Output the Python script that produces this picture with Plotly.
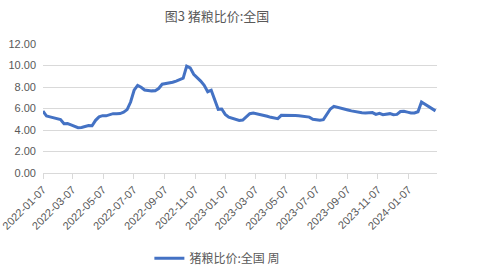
import datetime as dt
import plotly.graph_objects as go

title = "图3 猪粮比价:全国"
series_name = "猪粮比价:全国 周"
start_date = "2022-01-07"
values = [
    5.76, 5.30, 5.22, 5.15, 5.10, 4.98, 4.58, 4.60, 4.48, 4.32,
    4.22, 4.24, 4.32, 4.42, 4.40, 4.90, 5.22, 5.33, 5.32, 5.45,
    5.52, 5.52, 5.53, 5.65, 5.90, 6.60, 7.70, 8.15, 7.98, 7.72,
    7.66, 7.64, 7.66, 7.86, 8.26, 8.30, 8.36, 8.44, 8.55, 8.66,
    8.82, 9.94, 9.78, 9.18, 8.90, 8.55, 8.15, 7.56, 7.70, 6.70,
    5.92, 5.95, 5.45, 5.20, 5.08, 4.98, 4.88, 4.92, 5.25, 5.52,
    5.58, 5.52, 5.40, 5.33, 5.28, 5.18, 5.10, 5.05, 5.36, 5.34,
    5.33, 5.33, 5.34, 5.33, 5.30, 5.25, 5.20, 5.00, 4.93, 4.90,
    4.96, 5.45, 5.95, 6.20, 6.10, 6.04, 5.95, 5.86, 5.78, 5.70,
    5.64, 5.60, 5.58, 5.62, 5.62, 5.45, 5.55, 5.42, 5.50, 5.52,
    5.42, 5.45, 5.72, 5.74, 5.66, 5.58, 5.58, 5.70, 6.60, 6.40,
    6.20, 6.00, 5.78,
]
tick_dates = [
    "2022-01-07", "2022-03-07", "2022-05-07", "2022-07-07", "2022-09-07",
    "2022-11-07", "2023-01-07", "2023-03-07", "2023-05-07", "2023-07-07",
    "2023-09-07", "2023-11-07", "2024-01-07",
]
y_ticks = [0, 2, 4, 6, 8, 10, 12]

d0 = dt.date.fromisoformat(start_date)
dates = [(d0 + dt.timedelta(weeks=i)).isoformat() for i in range(len(values))]

gray = "#595959"
font_family = "Liberation Sans, Noto Sans CJK SC, sans-serif"
cjk = "Noto Sans CJK SC, sans-serif"

fig = go.Figure()
fig.add_trace(go.Scatter(
    x=dates, y=values, mode="lines", name=series_name,
    line=dict(color="#4472C4", width=3),
))

fig.update_layout(
    width=500, height=272,
    margin=dict(l=43, r=63, t=44, b=99, autoexpand=False),
    paper_bgcolor="white", plot_bgcolor="white",
    font=dict(family=font_family, color=gray, size=11),
    title=dict(text=title, x=0.434, xanchor="center", y=0.94, yanchor="middle",
               font=dict(size=13, color=gray, family=cjk)),
    showlegend=True,
    legend=dict(orientation="h", x=0.27, xanchor="left", y=-0.66, yanchor="middle",
                font=dict(size=12, color=gray, family=cjk),
                itemwidth=30),
    xaxis=dict(
        type="date", range=["2022-01-07", "2024-03-04"], automargin=False,
        tickmode="array", tickvals=tick_dates, ticktext=tick_dates,
        tickangle=-45, ticks="outside", ticklen=5, tickcolor="#d9d9d9",
        showgrid=False, showline=False, zeroline=False,
        tickfont=dict(size=11, color=gray),
    ),
    yaxis=dict(
        range=[0, 12], tickmode="array", tickvals=y_ticks, automargin=False,
        ticktext=[f"{v:.2f}" for v in y_ticks],
        showgrid=True, gridcolor="#d9d9d9", gridwidth=1,
        zeroline=True, zerolinecolor="#d9d9d9", zerolinewidth=1,
        showline=False, ticks="", ticklabelstandoff=6,
        tickfont=dict(size=11, color=gray),
    ),
)

fig.write_html("out.html")
